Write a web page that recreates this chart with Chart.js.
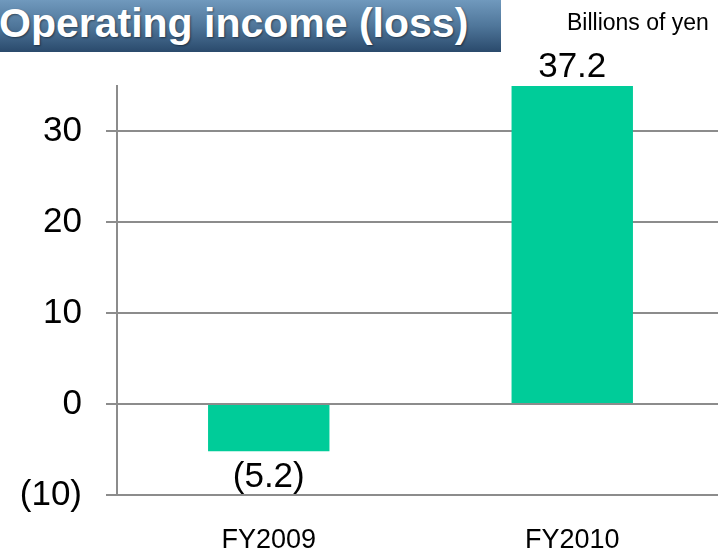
<!DOCTYPE html>
<html>
<head>
<meta charset="utf-8">
<script src="https://cdn.jsdelivr.net/npm/chart.js@4.4.0/dist/chart.umd.min.js"></script>
<style>
  html, body { margin: 0; padding: 0; background: #fff; overflow: hidden; width: 718px; height: 548px; }
  #wrap { position: absolute; left: 0; top: 0; width: 724px; height: 548px; }
  #titleBox {
    position: absolute; left: 0; top: 0; width: 501px; height: 52px;
    background: linear-gradient(to bottom, #7099bd 0%, #4f769a 50%, #2a4a6c 100%);
    overflow: hidden; z-index: 2;
  }
  #titleBox span {
    position: absolute; left: -1px; top: 0; line-height: 46px; white-space: nowrap;
    font-family: "Liberation Sans", Arial, sans-serif; font-weight: bold; font-size: 41px;
    color: #fff; text-shadow: 1px 1px 2px rgba(0,0,0,0.45);
  }
  #unit {
    position: absolute; left: 567px; top: 9px; line-height: 26px; white-space: nowrap;
    font-family: "Liberation Sans", Arial, sans-serif; font-size: 23px; color: #000; z-index: 2;
  }
</style>
</head>
<body>
<div id="titleBox"><span>Operating income (loss)</span></div>
<div id="unit">Billions of yen</div>
<div id="wrap"><canvas id="c" width="724" height="548"></canvas></div>
<script>
const categories = ["FY2009", "FY2010"];
const operatingIncome = [-5.2, 37.2];
const yTicks = [-10, 0, 10, 20, 30];
const yMin = -10;
const yMax = 35;

function fmt(v) {
  return v < 0 ? "(" + Math.abs(v).toFixed(1) + ")" : v.toFixed(1);
}
function fmtTick(v) {
  return v < 0 ? "(" + Math.abs(v) + ")" : String(v);
}

const labelPlugin = {
  id: "valueLabels",
  afterDatasetsDraw(chart) {
    const ctx = chart.ctx;
    const meta = chart.getDatasetMeta(0);
    const area = chart.chartArea;
    ctx.save();
    ctx.font = '35px "Liberation Sans", Arial, sans-serif';
    ctx.fillStyle = "#000";
    ctx.textAlign = "center";
    ctx.textBaseline = "alphabetic";
    meta.data.forEach((bar, i) => {
      const v = operatingIncome[i];
      if (v >= 0) {
        const top = Math.max(bar.y, area.top);
        ctx.fillText(fmt(v), bar.x, top - 9);
      } else {
        ctx.fillText(fmt(v), bar.x, bar.y + 36);
      }
    });
    ctx.restore();
  }
};

new Chart(document.getElementById("c"), {
  type: "bar",
  data: {
    labels: categories,
    datasets: [{
      data: operatingIncome,
      backgroundColor: "#00cc99",
      borderWidth: 0,
      barPercentage: 0.4,
      categoryPercentage: 1.0,
      clip: 0
    }]
  },
  options: {
    responsive: false,
    devicePixelRatio: 1,
    animation: false,
    layout: { padding: { top: 86, left: 0, right: 0, bottom: 0 } },
    plugins: { legend: { display: false }, tooltip: { enabled: false }, title: { display: false } },
    scales: {
      x: {
        grid: { display: false, drawTicks: false },
        border: { display: false },
        ticks: {
          color: "#000",
          padding: 29,
          font: { family: '"Liberation Sans", Arial, sans-serif', size: 27 },
          maxRotation: 0
        },
        afterFit(scale) { scale.height = 53; }
      },
      y: {
        min: yMin,
        max: yMax,
        grid: { color: "#8c8c8c", lineWidth: 2, tickLength: 11, drawTicks: true },
        border: { display: true, color: "#8c8c8c", width: 2 },
        ticks: {
          stepSize: 10,
          color: "#000",
          padding: 24,
          font: { family: '"Liberation Sans", Arial, sans-serif', size: 35 },
          callback: (v) => fmtTick(v)
        },
        afterBuildTicks(scale) { scale.ticks = yTicks.map(v => ({ value: v })); },
        afterFit(scale) { scale.width = 117; }
      }
    }
  },
  plugins: [labelPlugin]
});
</script>
</body>
</html>
